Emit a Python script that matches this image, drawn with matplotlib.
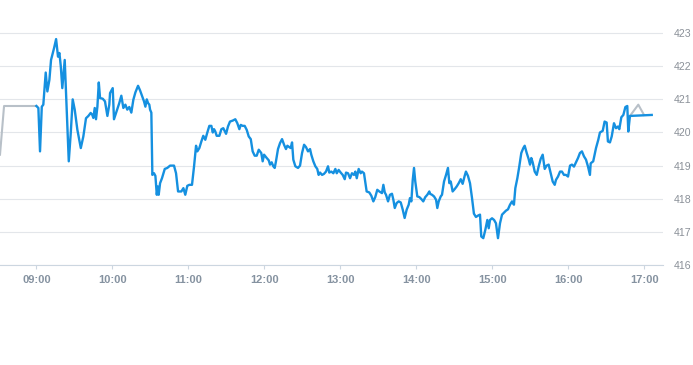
import numpy as np
import matplotlib.pyplot as plt

# minutes after 09:00 and price
minutes = [0.0, 1.6, 2.9, 4.3, 5.5, 7.4, 8.7, 10.3, 11.6, 14.0, 15.6, 17.1, 18.2, 19.3, 20.5,
           22.4, 24.0, 25.6, 27.2, 28.7, 30.3, 32.4, 35.1, 37.1, 39.2, 41.1, 42.9, 44.2, 45.0,
           46.1, 47.1, 48.2, 49.3, 50.3, 52.4, 54.2, 56.1, 57.6, 58.2, 60.3, 61.3, 62.9, 64.5,
           65.5, 67.1, 68.7, 70.3, 71.8, 73.4, 75.0, 76.6, 78.2, 80.3, 81.9, 83.4, 85.0, 86.1,
           87.2, 88.2, 89.2, 89.8, 90.8, 91.6, 92.9, 94.0, 95.1, 95.9, 96.6, 97.7, 99.2, 101.4,
           103.4, 105.6, 108.7, 110.3, 111.9, 114.5, 116.1, 117.6, 119.2, 120.8, 122.9, 124.5,
           126.1, 127.1, 128.7, 130.3, 131.8, 133.4, 135.0, 136.6, 138.2, 139.3, 140.3, 141.3,
           142.4, 144.5, 146.1, 147.6, 149.8, 151.3, 152.9, 155.1, 157.1, 158.7, 160.3, 161.4,
           162.9, 164.5, 166.1, 167.7, 169.3, 170.8, 172.4, 174.0, 175.6, 176.6, 177.6, 178.7,
           179.8, 181.9, 183.5, 184.5, 185.8, 187.1, 188.2, 189.2, 190.8, 192.4, 194.0, 195.6,
           197.1, 198.2, 199.7, 200.8, 201.9, 202.9, 204.5, 206.6, 208.2, 209.8, 211.4, 212.9,
           214.5, 216.1, 217.1, 218.7, 220.3, 221.8, 222.9, 224.0, 225.6, 227.1, 228.7, 230.3,
           231.3, 232.9, 234.5, 236.1, 237.2, 238.7, 240.3, 241.9, 243.5, 244.5, 246.1, 247.7,
           249.2, 250.8, 251.9, 253.0, 254.5, 256.1, 257.1, 258.7, 260.8, 262.9, 264.5, 266.1,
           267.6, 269.2, 270.8, 272.9, 274.0, 275.1, 276.1, 277.7, 279.2, 280.8, 281.9, 283.0,
           284.5, 286.1, 287.7, 289.3, 290.8, 292.4, 294.0, 295.0, 296.1, 297.2, 298.2, 299.2,
           300.8, 302.4, 304.0, 305.5, 307.1, 308.7, 310.3, 310.8, 312.4, 314.0, 315.6, 316.6,
           317.7, 319.3, 320.3, 321.9, 323.5, 325.0, 326.1, 327.2, 328.7, 330.3, 331.9, 333.5,
           335.1, 336.6, 338.2, 339.2, 340.8, 342.4, 344.0, 345.5, 347.1, 348.7, 350.3, 351.3,
           352.9, 354.5, 356.1, 357.2, 358.2, 359.8, 361.4, 362.9, 364.5, 366.1, 367.7, 369.2,
           370.8, 372.4, 374.0, 375.6, 377.1, 378.2, 379.8, 381.3, 382.9, 384.5, 385.6, 387.2,
           388.7, 389.8, 390.8, 391.9, 393.5, 395.1, 396.6, 398.2, 399.8, 401.4, 402.9, 404.5,
           406.1, 407.7, 409.3, 410.3, 411.9, 413.5, 415.0, 416.6, 418.2, 419.8, 421.4, 422.9,
           424.5, 426.1, 427.7, 429.2, 430.8, 432.4, 434.0, 435.6, 437.1, 437.7, 439.7, 441.9,
           443.7, 445.0, 447.2, 448.7, 450.3, 451.3, 452.9, 454.3, 456.1, 457.7, 459.2, 460.3,
           461.9, 463.5, 465.1, 466.6, 467.4, 468.7, 485.9]
price = [420.80, 420.74, 419.43, 420.78, 420.84, 421.81, 421.24, 421.59, 422.19, 422.55, 422.82,
         422.29, 422.40, 422.00, 421.34, 422.19, 420.69, 419.13, 420.00, 421.00, 420.69, 420.08,
         419.53, 419.88, 420.43, 420.50, 420.59, 420.53, 420.44, 420.74, 420.40, 420.78, 421.51,
         421.04, 421.02, 420.94, 420.50, 420.84, 421.19, 421.34, 420.40, 420.59, 420.78, 420.89,
         421.11, 420.74, 420.84, 420.69, 420.77, 420.60, 420.99, 421.21, 421.41, 421.27, 421.11,
         420.94, 420.78, 421.00, 420.89, 420.84, 420.69, 420.60, 418.72, 418.77, 418.69, 418.12,
         418.37, 418.12, 418.47, 418.62, 418.90, 418.93, 419.00, 419.00, 418.77, 418.22, 418.22,
         418.32, 418.12, 418.39, 418.42, 418.42, 418.97, 419.60, 419.43, 419.53, 419.73, 419.90,
         419.78, 420.00, 420.20, 420.20, 420.00, 420.10, 420.03, 419.90, 419.90, 420.10, 420.13,
         419.96, 420.18, 420.33, 420.36, 420.40, 420.28, 420.10, 420.23, 420.20, 420.20, 420.08,
         419.88, 419.80, 419.43, 419.30, 419.30, 419.48, 419.43, 419.38, 419.13, 419.33, 419.23,
         419.16, 419.03, 419.10, 418.98, 418.93, 419.13, 419.50, 419.68, 419.80, 419.63, 419.50,
         419.60, 419.56, 419.53, 419.70, 419.18, 418.98, 418.93, 419.00, 419.38, 419.63, 419.56,
         419.43, 419.50, 419.33, 419.13, 418.98, 418.90, 418.72, 418.79, 418.72, 418.75, 418.82,
         418.98, 418.79, 418.82, 418.77, 418.90, 418.77, 418.87, 418.79, 418.72, 418.59, 418.79,
         418.77, 418.62, 418.77, 418.72, 418.82, 418.62, 418.90, 418.77, 418.82, 418.77, 418.22,
         418.19, 418.09, 417.92, 418.05, 418.27, 418.22, 418.17, 418.42, 418.19, 418.12, 417.92,
         418.12, 418.15, 417.97, 417.72, 417.87, 417.92, 417.89, 417.67, 417.42, 417.67, 417.82,
         418.02, 417.92, 418.57, 418.93, 418.52, 418.07, 418.05, 417.99, 417.92, 418.05, 418.12,
         418.22, 418.15, 418.12, 418.07, 417.97, 417.72, 417.92, 418.07, 418.12, 418.52, 418.72,
         418.93, 418.47, 418.52, 418.22, 418.29, 418.37, 418.47, 418.59, 418.45, 418.69, 418.82,
         418.69, 418.47, 418.02, 417.55, 417.45, 417.49, 417.52, 416.86, 416.81, 417.06, 417.36,
         417.11, 417.36, 417.41, 417.36, 417.26, 416.81, 417.26, 417.52, 417.58, 417.64, 417.68,
         417.82, 417.92, 417.82, 418.32, 418.62, 418.97, 419.38, 419.53, 419.60, 419.38, 419.20,
         419.03, 419.23, 419.10, 418.82, 418.72, 418.97, 419.20, 419.33, 418.90, 419.00, 419.03,
         418.77, 418.52, 418.42, 418.57, 418.67, 418.82, 418.82, 418.72, 418.72, 418.67, 419.00,
         419.03, 418.97, 419.10, 419.23, 419.38, 419.43, 419.28, 419.18, 418.97, 418.72, 419.07,
         419.13, 419.53, 419.78, 420.00, 420.05, 420.33, 420.30, 419.73, 419.70, 419.88, 420.28,
         420.13, 420.18, 420.10, 420.46, 420.53, 420.77, 420.80, 420.03, 420.50, 420.53]

# grey extended-hours pieces
pre_minutes = [-28.7, -25.5, 0.0]
pre_price = [419.33, 420.80, 420.80]
post_minutes = [469.3, 475.3, 479.8]
post_price = [420.53, 420.84, 420.53]

tick_minutes = [0, 60, 120, 180, 240, 300, 360, 420, 480]
tick_labels = ['09:00', '10:00', '11:00', '12:00', '13:00', '14:00', '15:00', '16:00', '17:00']
y_ticks = [416, 417, 418, 419, 420, 421, 422, 423]

plt.rcParams['font.family'] = ['Liberation Sans', 'DejaVu Sans']

fig = plt.figure(figsize=(6.93, 3.65), dpi=100)
ax = fig.add_axes([0, 0.274, 663 / 693, 0.726])

ax.plot(pre_minutes, pre_price, color='#b8c0c8', lw=1.5, solid_joinstyle='round')
ax.plot(post_minutes, post_price, color='#b8c0c8', lw=1.5, solid_joinstyle='round')
ax.plot(minutes, price, color='#1590e0', lw=1.7, solid_joinstyle='round')

ax.set_xlim(-28.7, 494.8)
ax.set_ylim(416, 424.0)

ax.set_yticks(y_ticks)
ax.set_xticks(tick_minutes)
ax.set_xticklabels(tick_labels)

ax.yaxis.tick_right()
ax.grid(axis='y', color='#e3e6ea', lw=0.8)
ax.set_axisbelow(True)
for s in ['top', 'left', 'right']:
    ax.spines[s].set_visible(False)
ax.spines['bottom'].set_color('#ccd6e0')
ax.spines['bottom'].set_linewidth(0.8)

ax.tick_params(axis='y', length=0, pad=7.5, labelsize=7.6, labelcolor='#8a9098')
ax.tick_params(axis='x', length=3, width=0.8, color='#ccd6e0', pad=4, labelsize=8,
               labelcolor='#8592a0')
for lab in ax.get_xticklabels():
    lab.set_fontweight('bold')

fig.savefig('out.png', dpi=100)
